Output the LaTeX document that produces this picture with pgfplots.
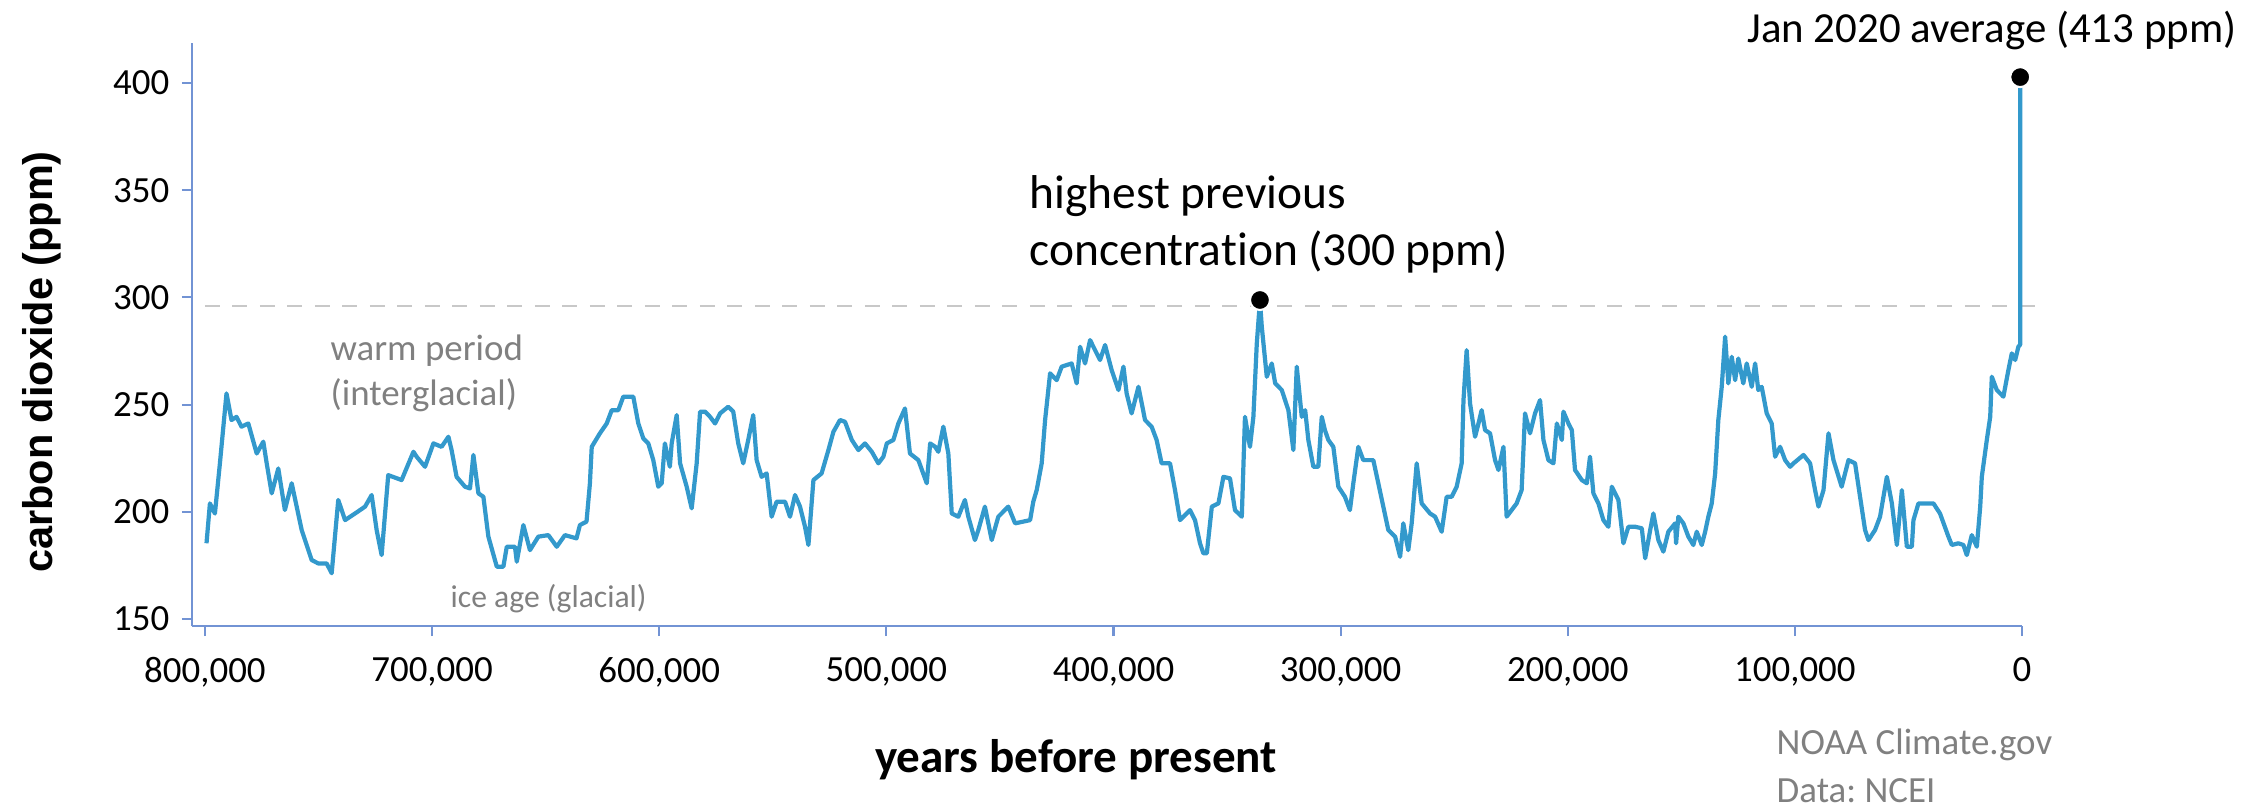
\documentclass[border=0pt]{standalone}
\usepackage{pgfplots}
\pgfplotsset{compat=1.18}
\usepackage{fontspec}
\setmainfont{Carlito}[Ligatures=NoCommon]
\newfontfamily\arialfont{Liberation Sans}
\frenchspacing

\definecolor{co2blue}{RGB}{51,153,204}
\definecolor{axisblue}{RGB}{114,147,212}
\definecolor{refgray}{RGB}{200,200,200}
\definecolor{notegray}{RGB}{128,128,128}

\begin{document}
\begin{tikzpicture}
    \begin{axis}[width=183mm, height=58.3mm, scale only axis,
            x dir=reverse,
            xmin=0, xmax=805700,
            ymin=146.7, ymax=418.7,
            axis x line*=bottom, axis y line*=left,
            axis line style={axisblue, line width=0.6pt},
            tick style={axisblue, line width=0.6pt},
            tick align=outside, major tick length=1mm,
            xtick={0,100000,200000,300000,400000,500000,600000,700000,800000},
            ytick={150,200,250,300,350,400},
            scaled x ticks=false,
            /pgf/number format/fixed,
            /pgf/number format/precision=0,
            /pgf/number format/assume math mode=true,
            /pgf/number format/1000 sep={,},
            ticklabel style={font=\fontsize{10.5}{12}\selectfont, inner sep=0pt},
            xticklabel style={anchor=north, yshift=-2.1mm},
            yticklabel style={anchor=east, xshift=-1.2mm},
            clip=false]
        % previous maximum, dashed
        \addplot[refgray, line width=0.8pt, dash pattern=on 1.5mm off 1.25mm] coordinates {
            (800000, 296) (-10500, 296)
        };
        % ice core record + modern value
        \addplot[co2blue, line width=1.2pt, line join=round] coordinates {
            (799300,185.3) (797800,203.9) (795600,199.2) (793400,222.6) (790500,255.2)
            (788300,242.8) (786100,244.3) (783900,239.7) (780900,241.2) (777200,227.2)
            (774300,232.7) (772800,222.6) (770600,208.6) (767700,220.2) (764800,200.8)
            (761800,213.3) (757400,191.5) (753000,177.5) (750100,175.9) (746400,175.9)
            (744200,171.3) (741300,205.5) (738300,196.1) (733900,199.2) (729500,202.4)
            (726600,207.8) (724400,191.5) (722200,179.8) (719300,217.1) (713400,214.8)
            (708200,228.0) (706800,225.7) (703100,221.0) (699400,231.9) (695800,230.3)
            (692800,235.0) (691400,228.8) (689200,216.3) (685500,211.7) (683300,210.9)
            (681800,226.5) (679600,208.6) (677400,207.0) (675200,188.4) (671500,174.4)
            (668600,174.4) (667100,183.7) (663500,183.7) (662700,176.7) (659800,193.8)
            (656900,182.1) (653200,188.4) (648800,189.1) (645100,183.7) (641500,189.1)
            (636400,187.6) (634900,193.8) (632000,195.4) (630500,213.3) (629700,230.3)
            (626100,236.6) (623100,241.2) (620900,247.4) (618000,247.4) (615800,253.7)
            (611400,253.7) (609200,241.2) (607000,234.2) (604800,231.9) (602600,224.1)
            (600400,211.7) (598900,213.3) (597500,231.9) (595300,221.0) (594500,231.9)
            (592300,245.1) (590800,222.6) (587900,211.7) (585700,201.6) (583500,222.6)
            (582000,246.7) (579800,246.7) (577600,244.3) (575400,241.2) (573200,245.9)
            (569600,249.0) (567400,246.7) (565200,231.9) (563000,222.6) (560800,233.5)
            (558600,245.1) (557100,224.1) (554900,216.3) (552700,217.9) (550500,197.7)
            (548300,204.7) (544600,204.7) (542400,197.7) (540200,207.8) (538000,202.4)
            (535800,193.0) (534300,184.5) (532100,214.8) (528500,217.9) (525500,228.8)
            (523300,237.3) (520400,242.8) (518200,242.0) (515200,233.5) (512300,228.8)
            (509400,231.9) (506400,228.0) (503500,222.6) (501300,225.7) (499800,231.9)
            (496900,233.5) (494700,241.2) (491800,248.2) (489600,227.2) (485900,224.1)
            (482200,213.3) (480700,231.9) (478500,230.3)
            (477100,228.0) (474900,239.7) (472700,227.2) (471200,199.2) (468300,197.7)
            (465400,205.5) (463900,197.7) (461000,186.8) (459500,191.5) (456600,202.4)
            (453600,186.8) (450700,197.7) (446300,202.4) (443300,194.6) (436700,196.1)
            (435300,204.7) (433800,210.1) (431600,222.6) (430100,242.8) (427900,264.6)
            (425000,261.4) (422800,267.7) (418400,269.2) (416200,259.9) (414700,277.0)
            (412500,269.2) (410300,280.1) (408100,275.4) (405900,270.8) (403700,277.8)
            (400800,266.1) (397800,256.8) (395600,267.7) (394200,255.2) (392000,245.9)
            (389000,258.3) (386100,242.8) (383200,239.7) (381000,233.5) (378800,222.6)
            (375100,222.6) (372900,210.1) (370700,196.1) (366300,200.8) (364100,196.1)
            (361900,185.3) (360400,180.6) (358900,180.6) (356700,202.4) (353800,203.9)
            (351600,216.3) (348700,215.6) (346500,200.8) (343500,197.7) (342100,244.3)
            (339900,230.3) (338400,244.3) (336900,278.5) (335500,298.5) (334700,286.3)
            (332500,263.0) (330300,269.2) (328800,259.9) (325900,256.8) (323000,247.4)
            (320800,228.8) (319300,267.7) (317100,244.3) (315600,247.4)
            (314200,233.5) (312000,221.0) (309800,221.0) (308300,244.3) (306900,238.1)
            (305400,233.5) (303200,230.3) (301000,211.7) (298100,207.0) (295900,200.8)
            (294400,213.3) (292200,230.3) (290000,224.1) (285600,224.1) (283400,213.3)
            (281200,202.4) (279000,191.5) (276000,188.4) (273800,179.0) (272400,194.6)
            (270200,182.1) (268700,194.6) (266500,222.6) (264300,203.9) (260600,199.2)
            (258400,197.7) (255500,190.7) (253300,207.0) (251100,207.0) (248900,211.7)
            (246700,222.6) (245900,252.1) (244500,275.4) (243000,250.5) (240800,235.0)
            (239300,241.2) (237900,247.4) (236400,238.1) (234200,236.6) (232000,224.1)
            (230500,219.5) (228300,230.3) (226900,197.7) (224700,200.8) (222500,203.9)
            (220300,210.1) (218800,245.9) (216600,236.6) (214400,245.9) (212200,252.1)
            (210700,233.5) (208500,224.1) (206300,222.6) (204800,241.2) (202600,233.5)
            (201900,246.7) (199700,241.2) (198200,238.1) (196800,219.5) (193800,214.8)
            (191600,213.3) (190200,225.7) (188700,208.6) (186500,203.9) (184300,196.1)
            (182100,193.0) (180600,211.7) (177700,205.5) (175500,185.3) (173300,193.0)
            (170300,193.0) (167400,192.3) (165900,178.3) (163700,191.5) (162300,199.2)
            (160100,186.8) (157900,181.4) (155700,190.7) (152700,194.6)
            (152300,185.3) (151300,197.7) (149100,194.6) (146900,188.4) (144700,184.5)
            (143200,190.7) (141000,184.5) (139500,190.7) (138100,197.7) (136600,203.9)
            (135100,217.9) (133700,242.8) (132200,258.3) (130700,281.7) (129300,259.9)
            (127800,272.3) (126300,261.4) (124900,271.5) (122700,259.9) (121200,269.2)
            (119000,258.3) (117500,269.2) (116100,256.8) (114600,258.3) (112400,245.9)
            (110200,241.2) (108700,225.7) (106500,230.3) (104300,224.1) (102100,221.0)
            (100600,222.6) (96200,226.5) (93300,222.6) (91100,210.1) (89600,202.4)
            (87400,210.1) (85200,236.6) (83000,224.1) (79400,211.7) (76400,224.1)
            (73500,222.6) (71300,207.0) (69100,191.5) (67600,186.8) (64700,191.5)
            (62500,197.7) (59500,216.3) (57300,203.9) (55100,184.5) (52900,210.1)
            (50700,183.7) (48500,183.7) (47800,196.1) (45600,203.9) (39000,203.9)
            (36100,199.2) (32400,188.4) (30900,184.5) (28000,185.3) (25800,184.5)
            (24300,179.8) (22100,189.1) (19900,183.7) (18400,202.4) (17700,216.3)
            (15500,233.5) (14000,244.3) (13300,263.0) (11100,256.8) (8200,253.7)
            (6000,266.1) (4500,273.9) (3000,270.8) (1600,277.0) (800,278.0)
            (800,402.8)
        };
        % highlighted points
        \addplot[only marks, mark=*, mark size=1mm,
            mark options={fill=black, draw=white, line width=0.6pt}] coordinates {
            (335500, 298.8) (800, 402.8)
        };
    \end{axis}
    \node[font={\arialfont\bfseries\fontsize{11.8}{14}\selectfont}, rotate=90, inner sep=0pt]
        at (-15mm,26.4mm) {carbon dioxide (ppm)};
    \node[font={\bfseries\fontsize{13.4}{16}\selectfont}, anchor=base, inner sep=0pt]
        at (88.4mm,-14.6mm) {years before present};
    \node[font={\fontsize{13.5}{16}\selectfont}, anchor=base west, inner sep=0pt]
        at (83.7mm,41.8mm) {highest previous};
    \node[font={\fontsize{13.5}{16}\selectfont}, anchor=base west, inner sep=0pt]
        at (83.7mm,36.1mm) {concentration (300 ppm)};
    \node[font={\fontsize{12.2}{14}\selectfont}, anchor=base east, inner sep=0pt]
        at (204.5mm,58.4mm) {Jan 2020 average (413 ppm)};
    \node[notegray, font={\fontsize{10.5}{12}\selectfont}, anchor=base west, inner sep=0pt]
        at (13.8mm,26.6mm) {warm period};
    \node[notegray, font={\fontsize{10.5}{12}\selectfont}, anchor=base west, inner sep=0pt]
        at (13.8mm,22.1mm) {(interglacial)};
    \node[notegray, font={\fontsize{9}{11}\selectfont}, anchor=base west, inner sep=0pt]
        at (25.8mm,1.9mm) {ice age (glacial)};
    \node[notegray, font={\fontsize{10.5}{12}\selectfont}, anchor=base west, inner sep=0pt]
        at (158.4mm,-12.8mm) {NOAA Climate.gov};
    \node[notegray, font={\fontsize{10.5}{12}\selectfont}, anchor=base west, inner sep=0pt]
        at (158.4mm,-17.6mm) {Data: NCEI};
    \pgfresetboundingbox
    \path[use as bounding box] (-19.2mm,-18.1mm) rectangle (204.9mm,62.6mm);
\end{tikzpicture}
\end{document}
